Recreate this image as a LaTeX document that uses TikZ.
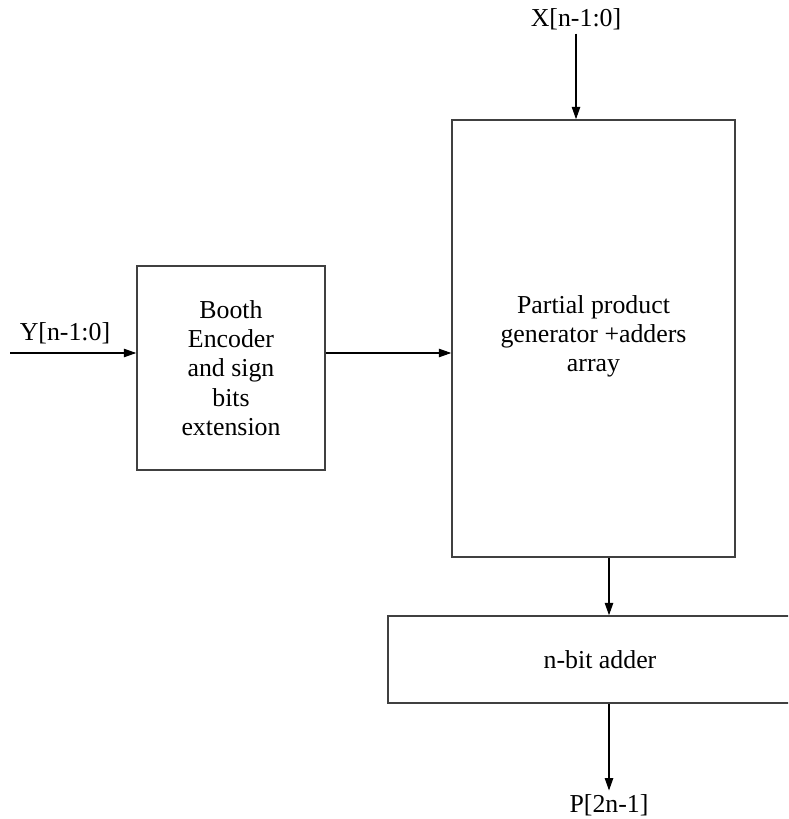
\documentclass[tikz,border=0pt]{standalone}
\usepackage{fontspec}
\setmainfont{Liberation Serif}
\usetikzlibrary{arrows.meta}

\begin{document}
\begin{tikzpicture}[
    block/.style={draw=black!75, line width=0.9pt, align=center,
                  font=\fontsize{14.7}{16.6}\selectfont},
    sig/.style={inner sep=2pt, font=\fontsize{14.7}{16.6}\selectfont},
    arrow/.style={-{Triangle[length=7pt,width=4.8pt]}, line width=0.6pt},
  ]
    \clip (0,0) rectangle (15.76,-16.38);

    % Blocks
    \node[block, minimum width=3.76cm, minimum height=4.08cm] (booth) at (4.62,-7.36)
        {Booth\\Encoder\\and sign\\bits\\extension};
    \node[block, minimum width=5.66cm, minimum height=8.74cm] (ppgen) at (11.87,-6.77)
        {Partial product\\generator +adders\\array\\[-0.38cm]};
    \node[block, minimum width=8.48cm, minimum height=1.74cm] (adder) at (12.0,-13.19)
        {n-bit adder};

    % Inputs and output
    \node[sig] (xin)  at (11.52,-0.38) {X[n-1:0]};
    \node[sig] (ylab) at (1.3,-6.66)   {Y[n-1:0]};
    \coordinate (yin) at (0.2,-7.06);
    \node[sig] (pout) at (12.18,-16.1) {P[2n-1]};

    % Arrows
    \draw[arrow] (xin.south) -- (xin.south |- ppgen.north);
    \draw[arrow] (yin) -- (yin -| booth.west);
    \draw[arrow] (yin -| booth.east) -- (yin -| ppgen.west);
    \draw[arrow] (pout.north |- ppgen.south) -- (pout.north |- adder.north);
    \draw[arrow] (pout.north |- adder.south) -- (pout.north);
  \end{tikzpicture}
\end{document}
